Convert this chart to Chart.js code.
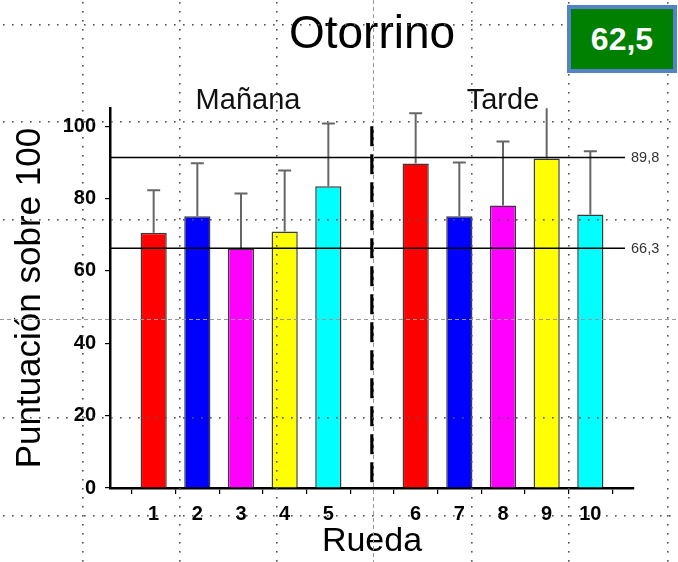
<!DOCTYPE html>
<html>
<head>
<meta charset="utf-8">
<title>Otorrino</title>
<script src="https://cdn.jsdelivr.net/npm/chart.js@4"></script>
<style>
  html, body { margin: 0; padding: 0; background: #fff; }
  #wrap { position: relative; width: 678px; height: 562px; }
  #badge {
    position: absolute; left: 567px; top: 5px; width: 102px; height: 60px;
    background: #008000; border: 4px solid #5581c6;
    color: #fff; font: bold 32px "Liberation Sans", Arial, sans-serif;
    display: flex; align-items: center; justify-content: center;
  }
</style>
</head>
<body>
<div id="wrap">
  <canvas id="myChart" width="678" height="562"></canvas>
  <div id="badge">62,5</div>
</div>
<script>
// data
const rounds = ["", "1", "2", "3", "4", "5", "", "6", "7", "8", "9", "10", ""];
const scores = [null, 70.6, 75.1, 66.2, 70.9, 83.4, null, 89.7, 75.1, 78.1, 91.1, 75.6, null];
const errors = [null, 11.7, 14.7, 15.2, 16.9, 17.4, null, 13.9, 14.9, 17.7, 15.0, 17.5, null];
const refValues = [91.4, 66.3];
const refLabels = ["89,8", "66,3"];
const groups = ["Mañana", "Tarde"];

const barColors = ["", "#ff0000", "#0000ff", "#ff00ff", "#ffff00", "#00ffff",
  "", "#ff0000", "#0000ff", "#ff00ff", "#ffff00", "#00ffff", ""];

const FONT = "'Liberation Sans', Arial, sans-serif";

const overlay = {
  id: "overlay",
  afterDatasetsDraw(chart) {
    const { ctx, chartArea, scales: { x, y } } = chart;
    ctx.save();

    // error bars (only upwards), clipped at the top of the axis
    ctx.save();
    ctx.beginPath();
    ctx.rect(chartArea.left, chartArea.top, chartArea.right - chartArea.left, chartArea.bottom - chartArea.top);
    ctx.clip();
    ctx.strokeStyle = "#666";
    ctx.lineWidth = 2;
    scores.forEach((v, i) => {
      if (v === null) return;
      const px = x.getPixelForTick(i);
      const top = y.getPixelForValue(v + errors[i]);
      ctx.beginPath();
      ctx.moveTo(px, y.getPixelForValue(v));
      ctx.lineTo(px, top);
      ctx.moveTo(px - 6.5, top);
      ctx.lineTo(px + 6.5, top);
      ctx.stroke();
    });
    ctx.restore();

    // dashed divider between morning and afternoon
    const dx = x.getPixelForTick(6);
    ctx.strokeStyle = "#000";
    ctx.lineWidth = 3.5;
    ctx.setLineDash([20, 8]);
    ctx.beginPath();
    ctx.moveTo(dx, y.getPixelForValue(100));
    ctx.lineTo(dx, y.getPixelForValue(0));
    ctx.stroke();
    ctx.setLineDash([]);

    // reference lines
    ctx.lineWidth = 1.5;
    ctx.font = "14.5px " + FONT;
    ctx.textAlign = "left";
    ctx.textBaseline = "middle";
    refValues.forEach((v, i) => {
      const py = y.getPixelForValue(v);
      ctx.strokeStyle = "#000";
      ctx.beginPath();
      ctx.moveTo(chartArea.left, py);
      ctx.lineTo(chartArea.right - 9, py);
      ctx.stroke();
      ctx.fillStyle = "#333";
      ctx.fillText(refLabels[i], chartArea.right - 3, py + 1);
    });

    // group labels
    ctx.fillStyle = "#111";
    ctx.font = "29px " + FONT;
    ctx.textAlign = "center";
    ctx.fillText(groups[0], x.getPixelForTick(3) + 7, chartArea.top - 7);
    ctx.fillText(groups[1], x.getPixelForTick(9), chartArea.top - 7);
    ctx.restore();
  },
  afterDraw(chart) {
    // slide guides on top of everything
    const { ctx, width, height } = chart;
    const vx = [83, 180, 277, 472, 569, 668];
    const hy = [25, 122, 220, 418, 516];
    ctx.save();
    ctx.fillStyle = "#555";
    vx.forEach((gx) => {
      for (let gy = 2; gy < height; gy += 9) ctx.fillRect(gx - 1, gy, 1.6, 1.6);
    });
    hy.forEach((gy) => {
      for (let gx = 3; gx < width; gx += 9) ctx.fillRect(gx, gy - 1, 1.6, 1.6);
    });
    ctx.strokeStyle = "#999";
    ctx.lineWidth = 1;
    ctx.setLineDash([4, 3]);
    ctx.beginPath();
    ctx.moveTo(373.5, 0); ctx.lineTo(373.5, height);
    ctx.moveTo(0, 319.5); ctx.lineTo(width, 319.5);
    ctx.stroke();
    ctx.restore();
  }
};

const ctx = document.getElementById("myChart").getContext("2d");
const myChart = new Chart(ctx, {
  type: "bar",
  data: {
    labels: rounds,
    datasets: [{
      data: scores,
      backgroundColor: barColors,
      borderColor: "#3a3a3a",
      borderWidth: 1.5,
      barPercentage: 0.75,
      categoryPercentage: 0.8
    }]
  },
  options: {
    responsive: false,
    animation: false,
    layout: { padding: { left: 0, right: 44, top: 0, bottom: 0 } },
    plugins: {
      legend: { display: false },
      tooltip: { enabled: false },
      title: {
        display: true,
        fullSize: false,
        text: "Otorrino",
        color: "#000",
        font: { family: FONT, size: 46, weight: "normal" },
        padding: { top: 8, bottom: 45 }
      }
    },
    scales: {
      x: {
        type: "category",
        offset: false,
        afterFit: (s) => { s.height = 74; },
        border: { color: "#000", width: 2.5 },
        grid: { drawOnChartArea: false, tickLength: 6, color: "#000", lineWidth: 1.2 },
        ticks: {
          autoSkip: false, maxRotation: 0, padding: 8, color: "#000",
          font: { family: FONT, size: 20, weight: "bold" }
        },
        title: {
          display: true, text: "Rueda", color: "#000",
          font: { family: FONT, size: 34 },
          padding: { top: 0, bottom: 0 }
        }
      },
      y: {
        min: 0,
        max: 105,
        afterFit: (s) => { s.width = 110; },
        border: { color: "#000", width: 2.5 },
        grid: { drawOnChartArea: false, tickLength: 5, color: "#000", lineWidth: 1.2 },
        ticks: {
          stepSize: 20, includeBounds: false, padding: 9, color: "#000",
          font: { family: FONT, size: 20, weight: "bold" }
        },
        title: {
          display: true, text: "Puntuación sobre 100", color: "#000",
          font: { family: FONT, size: 35 },
          padding: { top: 9, bottom: 0 }
        }
      }
    }
  },
  plugins: [overlay]
});
</script>
</body>
</html>
